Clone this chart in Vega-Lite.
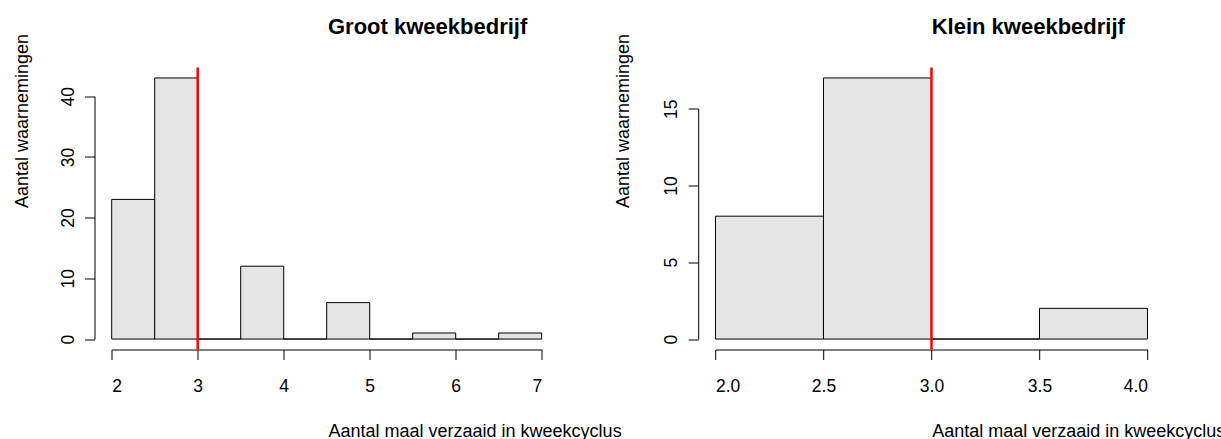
{
  "$schema": "https://vega.github.io/schema/vega-lite/v6.json",
  "autosize": {"type": "none"},
  "padding": {"left": 94.5, "top": 67.5, "right": 1126.5, "bottom": 371.5},
  "background": "white",
  "bounds": "flush",
  "spacing": 138.7,
  "config": {
    "view": {"stroke": null},
    "font": "Liberation Sans",
    "axis": {
      "grid": false,
      "domainColor": "black",
      "domainWidth": 1,
      "tickColor": "black",
      "tickWidth": 1,
      "tickSize": 10,
      "labelColor": "black",
      "labelFont": "Liberation Sans",
      "labelFontSize": 17.5,
      "titleColor": "black",
      "titleFont": "Liberation Sans",
      "titleFontSize": 18,
      "titleFontWeight": "normal"
    }
  },
  "hconcat": [
    {
      "width": 464.4,
      "height": 282,
      "title": {"text": "Groot kweekbedrijf", "anchor": "start", "frame": "group", "dx": 233.5, "dy": 24, "offset": 1.5, "baseline": "alphabetic", "fontSize": 22, "fontWeight": "bold", "font": "Liberation Sans", "color": "black"},
      "layer": [
        {
          "data": {"values": [
            {"start": 2.0, "end": 2.5, "count": 23},
            {"start": 2.5, "end": 3.0, "count": 43},
            {"start": 3.0, "end": 3.5, "count": 0},
            {"start": 3.5, "end": 4.0, "count": 12},
            {"start": 4.0, "end": 4.5, "count": 0},
            {"start": 4.5, "end": 5.0, "count": 6},
            {"start": 5.0, "end": 5.5, "count": 0},
            {"start": 5.5, "end": 6.0, "count": 1},
            {"start": 6.0, "end": 6.5, "count": 0},
            {"start": 6.5, "end": 7.0, "count": 1}
          ]},
          "mark": {"type": "bar", "fill": "#E5E5E5", "stroke": "black", "strokeWidth": 1},
          "encoding": {
            "x": {"field": "start", "type": "quantitative",
              "scale": {"domain": [2, 7], "range": [17.2, 447.2], "nice": false, "zero": false},
              "axis": {"values": [2, 3, 4, 5, 6, 7], "format": "d", "labelPadding": 18, "labelBaseline": "top",
                "title": "Aantal maal verzaaid in kweekcyclus", "titleX": 233.5, "titleY": 86.5, "titleAlign": "left", "titleBaseline": "alphabetic"}},
            "x2": {"field": "end"},
            "y": {"field": "count", "type": "quantitative",
              "scale": {"domain": [0, 40], "range": [271.56, 28.67], "nice": false, "zero": false},
              "axis": {"values": [0, 10, 20, 30, 40], "labelAngle": -90, "labelAlign": "center", "labelBaseline": "alphabetic", "labelPadding": 11.5,
                "title": "Aantal waarnemingen", "titleAngle": 270, "titleX": -67.5, "titleY": 53, "titleAlign": "center", "titleBaseline": "alphabetic"}},
            "y2": {"datum": 0}
          }
        },
        {
          "data": {"values": [{"cutoff": 3}]},
          "mark": {"type": "rule", "color": "#FF0000", "strokeWidth": 2.5},
          "encoding": {"x": {"field": "cutoff", "type": "quantitative"}}
        }
      ]
    },
    {
      "width": 466.6,
      "height": 282,
      "title": {"text": "Klein kweekbedrijf", "anchor": "start", "frame": "group", "dx": 233.5, "dy": 24, "offset": 1.5, "baseline": "alphabetic", "fontSize": 22, "fontWeight": "bold", "font": "Liberation Sans", "color": "black"},
      "layer": [
        {
          "data": {"values": [
            {"start": 2.0, "end": 2.5, "count": 8},
            {"start": 2.5, "end": 3.0, "count": 17},
            {"start": 3.0, "end": 3.5, "count": 0},
            {"start": 3.5, "end": 4.0, "count": 2}
          ]},
          "mark": {"type": "bar", "fill": "#E5E5E5", "stroke": "black", "strokeWidth": 1},
          "encoding": {
            "x": {"field": "start", "type": "quantitative",
              "scale": {"domain": [2, 4], "range": [17.28, 449.28], "nice": false, "zero": false},
              "axis": {"values": [2, 2.5, 3, 3.5, 4], "format": ".1f", "labelPadding": 18, "labelBaseline": "top",
                "title": "Aantal maal verzaaid in kweekcyclus", "titleX": 233.5, "titleY": 86.5, "titleAlign": "left", "titleBaseline": "alphabetic"}},
            "x2": {"field": "end"},
            "y": {"field": "count", "type": "quantitative",
              "scale": {"domain": [0, 15], "range": [271.56, 41.16], "nice": false, "zero": false},
              "axis": {"values": [0, 5, 10, 15], "labelAngle": -90, "labelAlign": "center", "labelBaseline": "alphabetic", "labelPadding": 11.5,
                "title": "Aantal waarnemingen", "titleAngle": 270, "titleX": -70, "titleY": 53, "titleAlign": "center", "titleBaseline": "alphabetic"}},
            "y2": {"datum": 0}
          }
        },
        {
          "data": {"values": [{"cutoff": 3}]},
          "mark": {"type": "rule", "color": "#FF0000", "strokeWidth": 2.5},
          "encoding": {"x": {"field": "cutoff", "type": "quantitative"}}
        }
      ]
    }
  ]
}
